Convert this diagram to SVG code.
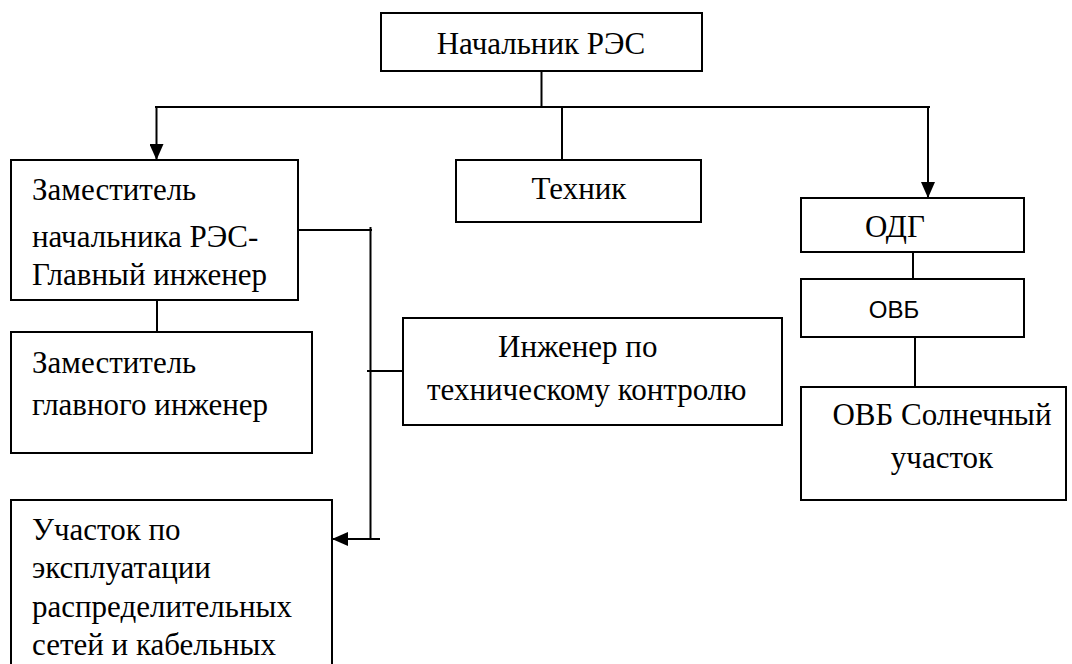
<svg xmlns="http://www.w3.org/2000/svg" width="1072" height="664" viewBox="0 0 1072 664">
<style>
.box{fill:#fff;stroke:#000;stroke-width:2}
.t{font-size:31px;fill:#000}
.s{font-size:24px;fill:#000}
.c{fill:none;stroke:#000;stroke-width:2}
</style>
<defs>
<marker id="ah" markerUnits="userSpaceOnUse" markerWidth="16" markerHeight="14" refX="16" refY="7" orient="auto">
<path d="M0,0 L16,7 L0,14 Z" fill="#000"/>
</marker>
</defs>
<rect width="1072" height="664" fill="#fff"/>
<g id="connectors">
<line class="c" x1="541.5" y1="71" x2="541.5" y2="107"/>
<line class="c" x1="155" y1="107" x2="930" y2="107"/>
<line class="c" x1="156.5" y1="106" x2="156.5" y2="160" marker-end="url(#ah)"/>
<line class="c" x1="562" y1="107" x2="562" y2="160"/>
<line class="c" x1="928" y1="106" x2="928" y2="198" marker-end="url(#ah)"/>
<line class="c" x1="157" y1="300" x2="157" y2="332"/>
<line class="c" x1="298" y1="230" x2="372" y2="230"/>
<line class="c" x1="370.5" y1="227" x2="370.5" y2="540"/>
<line class="c" x1="367" y1="371" x2="403" y2="371"/>
<line class="c" x1="380" y1="539" x2="332" y2="539" marker-end="url(#ah)"/>
<line class="c" x1="913" y1="252" x2="913" y2="279"/>
<line class="c" x1="915" y1="337" x2="915" y2="387"/>
</g>
<g font-family="Liberation Serif, Times New Roman, serif">
<g id="nachalnik">
<rect class="box" x="381" y="13" width="321" height="58"/>
<text class="t" x="541" y="54" text-anchor="middle">Начальник РЭС</text>
</g>
<g id="zam">
<rect class="box" x="11" y="160" width="287" height="140"/>
<text class="t" x="32" y="200">Заместитель</text>
<text class="t" x="32" y="247">начальника РЭС-</text>
<text class="t" x="32" y="285">Главный инженер</text>
</g>
<g id="tehnik">
<rect class="box" x="456" y="160" width="245" height="62"/>
<text class="t" x="579" y="199" text-anchor="middle">Техник</text>
</g>
<g id="odg">
<rect class="box" x="801" y="198" width="223" height="54"/>
<text class="t" x="895" y="237" text-anchor="middle">ОДГ</text>
</g>
<g id="ovb">
<rect class="box" x="801" y="279" width="223" height="58"/>
<text class="s" x="894" y="318" text-anchor="middle" font-family="Liberation Sans, Arial, sans-serif">ОВБ</text>
</g>
<g id="zamglav">
<rect class="box" x="11" y="332" width="301" height="121"/>
<text class="t" x="32" y="373">Заместитель</text>
<text class="t" x="32" y="415">главного инженер</text>
</g>
<g id="inzhener">
<rect class="box" x="403" y="318" width="379" height="107"/>
<text class="t" x="498" y="357">Инженер по</text>
<text class="t" x="427" y="400">техническому контролю</text>
</g>
<g id="ovbsol">
<rect class="box" x="801" y="387" width="265" height="113"/>
<text class="t" x="942" y="425" text-anchor="middle">ОВБ Солнечный</text>
<text class="t" x="942" y="468" text-anchor="middle">участок</text>
</g>
<g id="uchastok">
<rect class="box" x="11" y="500" width="321" height="180"/>
<text class="t" x="32" y="540">Участок по</text>
<text class="t" x="32" y="578">эксплуатации</text>
<text class="t" x="32" y="617">распределительных</text>
<text class="t" x="32" y="655">сетей и кабельных</text>
</g>
</g>
</svg>
